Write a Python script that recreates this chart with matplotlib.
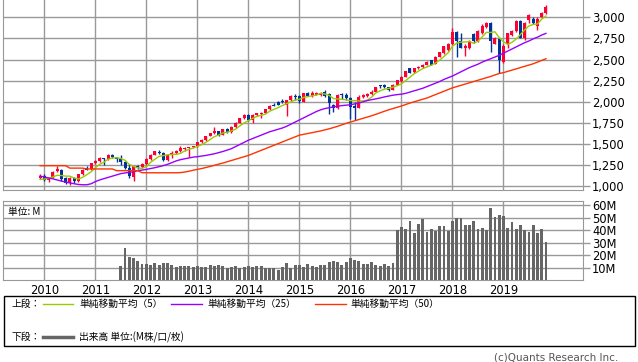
import numpy as np
import matplotlib
matplotlib.use("Agg")
import matplotlib.pyplot as plt

# monthly candles, Dec 2009 .. Nov 2019 (month 0 = Jan 2010)
opens = [1095,
         1125, 1080, 1100, 1175, 1195, 1095, 1040, 1100, 1060, 1140, 1215, 1200,
         1270, 1300, 1330, 1320, 1375, 1345, 1320, 1290, 1215, 1110, 1235, 1225,
         1260, 1320, 1375, 1410, 1395, 1310, 1370, 1395, 1420, 1440, 1450, 1460,
         1475, 1520, 1550, 1595, 1625, 1650, 1610, 1675, 1640, 1705, 1750, 1805,
         1845, 1780, 1840, 1860, 1870, 1910, 1960, 1995, 2015, 1960, 2020, 2065,
         2065, 2000, 2105, 2070, 2085, 2080, 2115, 2090, 1965, 1925, 2085, 2085,
         2050, 1945, 1930, 2060, 2070, 2090, 2120, 2190, 2195, 2170, 2140, 2200,
         2250, 2295, 2395, 2350, 2400, 2410, 2440, 2490, 2450, 2530, 2575, 2610,
         2680, 2830, 2715, 2640, 2640, 2800, 2720, 2810, 2880, 2935, 2690, 2740,
         2475, 2690, 2790, 2840, 2955, 2760, 2970, 2980, 2900, 3000, 3050]
highs = [1145,
         1150, 1105, 1175, 1235, 1200, 1105, 1110, 1110, 1150, 1200, 1240, 1275,
         1310, 1345, 1340, 1380, 1385, 1350, 1370, 1300, 1260, 1240, 1250, 1275,
         1330, 1380, 1420, 1430, 1405, 1380, 1420, 1430, 1480, 1470, 1465, 1480,
         1525, 1555, 1600, 1630, 1700, 1660, 1680, 1690, 1710, 1760, 1810, 1850,
         1850, 1850, 1870, 1875, 1915, 1960, 1990, 2005, 2030, 2025, 2075, 2095,
         2080, 2110, 2120, 2130, 2115, 2120, 2135, 2100, 1975, 2090, 2105, 2100,
         2060, 2000, 2075, 2090, 2105, 2140, 2180, 2200, 2205, 2180, 2215, 2260,
         2300, 2370, 2400, 2400, 2420, 2445, 2480, 2500, 2540, 2590, 2660, 2700,
         2870, 2840, 2810, 2680, 2730, 2810, 2850, 2920, 2950, 2950, 2770, 2750,
         2680, 2815, 2850, 2970, 2965, 2940, 3040, 3000, 3000, 3060, 3140]
lows = [1085,
        1060, 1045, 1095, 1170, 1060, 1030, 1020, 1040, 1050, 1130, 1190, 1195,
        1260, 1290, 1250, 1310, 1340, 1290, 1250, 1200, 1100, 1060, 1210, 1220,
        1255, 1315, 1370, 1380, 1300, 1300, 1330, 1385, 1410, 1420, 1350, 1450,
        1470, 1515, 1540, 1590, 1615, 1600, 1605, 1630, 1635, 1690, 1745, 1800,
        1770, 1750, 1830, 1805, 1865, 1905, 1945, 1960, 1990, 1830, 2015, 2025,
        1990, 1995, 2065, 2060, 2080, 2070, 2060, 1860, 1880, 1920, 2030, 2020,
        1800, 1780, 1925, 2040, 2060, 2080, 2115, 2160, 2160, 2130, 2135, 2195,
        2240, 2290, 2340, 2345, 2390, 2400, 2435, 2430, 2445, 2525, 2570, 2600,
        2670, 2530, 2640, 2540, 2620, 2700, 2710, 2800, 2870, 2590, 2680, 2345,
        2460, 2640, 2780, 2830, 2750, 2730, 2930, 2920, 2850, 2990, 3040]
closes = [1125,
          1080, 1100, 1170, 1200, 1090, 1040, 1100, 1060, 1140, 1190, 1195, 1270,
          1300, 1340, 1320, 1370, 1345, 1320, 1290, 1215, 1120, 1235, 1225, 1265,
          1320, 1375, 1415, 1395, 1310, 1370, 1395, 1420, 1450, 1455, 1460, 1475,
          1520, 1550, 1595, 1625, 1650, 1610, 1675, 1640, 1705, 1750, 1805, 1845,
          1780, 1840, 1865, 1870, 1910, 1955, 1950, 1965, 2000, 2020, 2065, 2055,
          2010, 2105, 2070, 2110, 2105, 2110, 2065, 1990, 1925, 2080, 2080, 2045,
          1940, 1925, 2060, 2080, 2095, 2120, 2175, 2185, 2170, 2140, 2200, 2255,
          2295, 2365, 2345, 2395, 2415, 2440, 2470, 2440, 2530, 2585, 2655, 2690,
          2830, 2715, 2640, 2665, 2720, 2720, 2840, 2900, 2930, 2715, 2760, 2495,
          2655, 2810, 2840, 2955, 2760, 2935, 3025, 2930, 2980, 3050, 3120]

ma5 = [1080,
       1085, 1095, 1110, 1130, 1128, 1120, 1120, 1098, 1086, 1106, 1137, 1171,
       1219, 1259, 1285, 1320, 1335, 1339, 1329, 1308, 1258, 1236, 1217, 1212,
       1233, 1284, 1320, 1354, 1363, 1373, 1377, 1378, 1389, 1418, 1436, 1452,
       1472, 1492, 1520, 1553, 1588, 1606, 1631, 1640, 1656, 1676, 1715, 1749,
       1777, 1804, 1827, 1840, 1853, 1888, 1910, 1930, 1956, 1978, 2000, 2021,
       2030, 2051, 2061, 2070, 2080, 2100, 2092, 2076, 2039, 2034, 2028, 2024,
       2014, 2014, 2010, 2010, 2020, 2056, 2106, 2131, 2149, 2158, 2174, 2190,
       2212, 2251, 2292, 2331, 2363, 2392, 2413, 2432, 2459, 2493, 2536, 2580,
       2658, 2695, 2706, 2708, 2714, 2692, 2717, 2769, 2822, 2821, 2829, 2760,
       2711, 2679, 2704, 2743, 2796, 2852, 2898, 2916, 2921, 2979, 3016]
ma25 = [1120,
        1110, 1098, 1088, 1075, 1062, 1050, 1040, 1030, 1022, 1018, 1018, 1030,
        1055, 1075, 1090, 1105, 1120, 1135, 1150, 1158, 1165, 1172, 1185, 1192,
        1200, 1210, 1220, 1232, 1245, 1260, 1280, 1300, 1315, 1325, 1335, 1345,
        1350, 1358, 1365, 1375, 1385, 1398, 1412, 1428, 1445, 1470, 1495, 1520,
        1545, 1565, 1585, 1605, 1625, 1645, 1660, 1675, 1690, 1710, 1735, 1760,
        1785, 1810, 1835, 1860, 1885, 1905, 1920, 1930, 1940, 1948, 1955, 1960,
        1965, 1975, 1985, 2000, 2015, 2025, 2035, 2045, 2058, 2068, 2078, 2085,
        2090, 2100, 2115, 2130, 2145, 2160, 2180, 2200, 2220, 2240, 2265, 2285,
        2305, 2330, 2355, 2380, 2405, 2425, 2445, 2470, 2490, 2510, 2530, 2550,
        2575, 2600, 2625, 2650, 2675, 2700, 2720, 2745, 2765, 2790, 2810]
ma50 = [1244,
        1244, 1244, 1244, 1244, 1244, 1244, 1215, 1215, 1215, 1215, 1205, 1205,
        1205, 1205, 1205, 1205, 1205, 1185, 1185, 1185, 1185, 1185, 1185, 1160,
        1160, 1160, 1160, 1160, 1160, 1160, 1160, 1160, 1162, 1168, 1178, 1190,
        1200, 1210, 1222, 1235, 1248, 1262, 1275, 1290, 1305, 1320, 1335, 1350,
        1365, 1385, 1405, 1425, 1445, 1465, 1485, 1505, 1525, 1545, 1565, 1585,
        1605, 1615, 1625, 1635, 1645, 1655, 1668, 1680, 1695, 1710, 1728, 1745,
        1760, 1775, 1790, 1805, 1820, 1835, 1852, 1870, 1888, 1905, 1920, 1935,
        1950, 1968, 1985, 2000, 2015, 2030, 2045, 2065, 2085, 2105, 2125, 2145,
        2165, 2180, 2195, 2210, 2225, 2240, 2255, 2270, 2285, 2300, 2318, 2335,
        2345, 2360, 2375, 2390, 2405, 2420, 2435, 2450, 2470, 2490, 2510]

# volume (M), Jul 2011 .. Nov 2019
volume = [11.6, 25.8, 18.7, 17.9, 15.5, 13.2,
          13.2, 12.4, 13.9, 12.4, 13.9, 13.9, 12.4, 10.8, 11.6, 11.6, 11.6, 10.8,
          11.6, 10.8, 10.8, 12.4, 11.6, 12.4, 11.6, 10.0, 10.8, 11.6, 10.0, 10.8,
          11.6, 10.8, 11.6, 11.6, 10.0, 10.0, 10.0, 8.4, 10.8, 13.9, 10.0, 12.4,
          12.4, 10.8, 13.2, 11.6, 10.8, 12.4, 12.4, 14.7, 15.5, 14.7, 12.4, 14.7,
          17.9, 16.3, 15.5, 13.2, 13.2, 14.7, 12.4, 11.6, 13.2, 11.6, 13.9, 40.0,
          42.4, 40.8, 47.1, 37.6, 44.7, 48.7, 38.4, 40.8, 39.2, 43.2, 43.2, 39.2,
          47.1, 49.5, 49.5, 43.9, 43.9, 47.1, 40.8, 41.6, 40.0, 58.2, 50.3, 52.6,
          51.8, 41.6, 46.3, 40.8, 43.9, 40.0, 38.4, 43.9, 37.6, 40.8, 30.5]
vol_start = 18  # Jul 2011

years = list(range(2010, 2020))
price_ticks = [1000, 1250, 1500, 1750, 2000, 2250, 2500, 2750, 3000]
vol_ticks = [10, 20, 30, 40, 50, 60]

UP = '#ff0033'
DOWN = '#003399'
GRID = '#999999'
JP = ['Noto Sans CJK JP', 'DejaVu Sans']

W, H = 638, 362
fig = plt.figure(figsize=(W / 100, H / 100), dpi=100)

def px_axes(x0, y0, x1, y1):
    return fig.add_axes([x0 / W, 1 - y1 / H, (x1 - x0) / W, (y1 - y0) / H])

months = np.arange(len(closes)) - 1
xlim = (-9.65, 126.6)

ax1 = px_axes(3.3, 0, 582.5, 190)
ax2 = px_axes(3.3, 201.3, 582.5, 280.3)

for ax in (ax1, ax2):
    ax.set_xlim(*xlim)
    ax.set_xticks([12 * i for i in range(len(years))])
    ax.grid(True, color=GRID, lw=1)
    ax.set_axisbelow(True)
    for s in ax.spines.values():
        s.set_color(GRID)
    ax.yaxis.tick_right()
    ax.tick_params(axis='y', direction='out', length=5, color=GRID, width=1,
                   labelsize=8.3, pad=2)
    ax.tick_params(axis='x', length=0)
ax1.spines['top'].set_visible(False)

# candles
o = np.array(opens); h = np.array(highs); l = np.array(lows); c = np.array(closes)
cols = [UP if cc >= oo else DOWN for oo, cc in zip(o, c)]
ax1.vlines(months, l, h, colors=cols, lw=1, zorder=3)
body = np.maximum(np.abs(c - o), 8)
ax1.bar(months, body, bottom=np.minimum(o, c), width=0.7, color=cols, lw=0, zorder=3)
ax1.plot(months, ma5, color='#99cc00', lw=1, zorder=4)
ax1.plot(months, ma25, color='#9900ff', lw=1, zorder=4)
ax1.plot(months, ma50, color='#ff3300', lw=1, zorder=4)
ax1.set_ylim(956, 3205)
ax1.set_yticks(price_ticks)
ax1.set_yticklabels([f'{t:,}' for t in price_ticks])
ax1.set_xticklabels([])

vm = np.arange(len(volume)) + vol_start
ax2.bar(vm, volume, width=0.66, color='#666666', lw=0, zorder=3)
ax2.set_ylim(0, 63.2)
ax2.set_yticks(vol_ticks)
ax2.set_yticklabels([f'{t}M' for t in vol_ticks])
ax2.set_xticklabels([str(y) for y in years], fontsize=8.3)
ax2.tick_params(axis='x', pad=3)
ax2.text(0.008, 0.86, '単位: M', transform=ax2.transAxes, fontsize=7,
         family=JP, va='center', ha='left')

# legend box in pixel coordinates
ov = fig.add_axes([0, 0, 1, 1], zorder=-1)
ov.set_xlim(0, W); ov.set_ylim(H, 0); ov.axis('off')
ov.add_patch(plt.Rectangle((3.5, 295.5), 631.5, 50.5, fill=False, ec='black', lw=1))
fs = 7
ov.text(12, 304, '上段：', fontsize=fs, family=JP, va='center')
ov.text(12, 337, '下段：', fontsize=fs, family=JP, va='center')
ov.plot([43, 73], [304, 304], color='#99cc00', lw=1)
ov.text(79, 304, '単純移動平均（5）', fontsize=fs, family=JP, va='center')
ov.plot([171, 202], [304, 304], color='#9900ff', lw=1)
ov.text(207, 304, '単純移動平均（25）', fontsize=fs, family=JP, va='center')
ov.plot([315, 346], [304, 304], color='#ff3300', lw=1)
ov.text(350, 304, '単純移動平均（50）', fontsize=fs, family=JP, va='center')
ov.plot([43, 73], [337, 337], color='#666666', lw=2.5)
ov.text(79, 337, '出来高 単位:(M株/口/枚)', fontsize=fs, family=JP, va='center')
ov.text(618, 357, '(c)Quants Research Inc.', fontsize=7.5, color='#555555',
        ha='right', va='center')

fig.savefig('out.png', dpi=100)
